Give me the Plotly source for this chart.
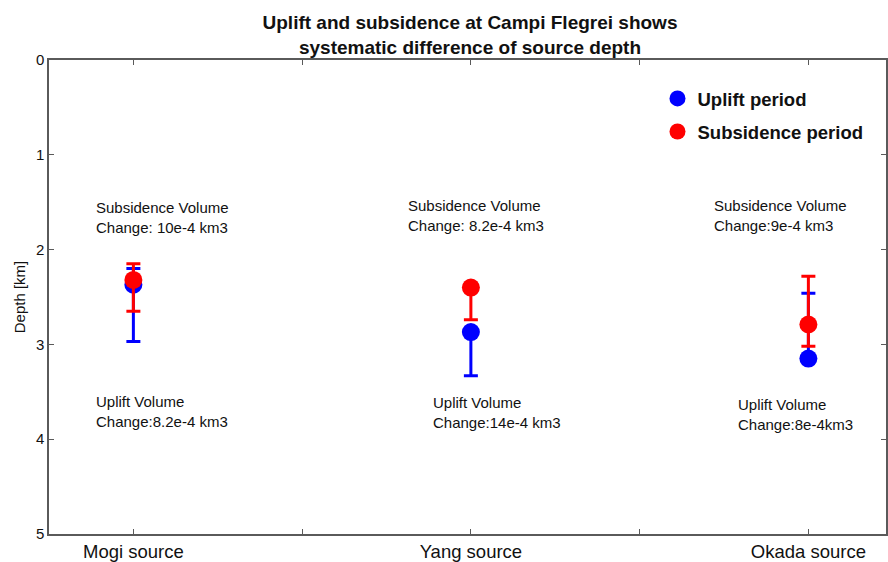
import plotly.graph_objects as go

# Source models on the x axis (positions 1, 2, 3)
models = ["Mogi source", "Yang source", "Okada source"]
model_pos = [1, 2, 3]

# Best-fit source depths [km] and their error ranges
uplift_depth = [2.37, 2.87, 3.15]
uplift_err_deeper = [0.60, 0.46, 0.0]
uplift_err_shallower = [0.17, 0.0, 0.69]

subsidence_depth = [2.32, 2.40, 2.79]
subsidence_err_deeper = [0.33, 0.34, 0.23]
subsidence_err_shallower = [0.17, 0.0, 0.51]

# Volume change notes
subsidence_notes = ["Subsidence Volume<br>Change: 10e-4 km3",
                    "Subsidence Volume<br>Change: 8.2e-4 km3",
                    "Subsidence Volume<br>Change:9e-4 km3"]
uplift_notes = ["Uplift Volume<br>Change:8.2e-4 km3",
                "Uplift Volume<br>Change:14e-4 km3",
                "Uplift Volume<br>Change:8e-4km3"]
note_offsets_sub = [-0.118, -0.192, -0.287]
note_offsets_up = [-0.118, -0.118, -0.213]
note_depth_sub = [1.66, 1.635, 1.645]
note_depth_up = [3.71, 3.72, 3.74]

x_ticks = [1, 1.5, 2, 2.5, 3]
x_ticktext = ["Mogi source", "", "Yang source", "", "Okada source"]
y_ticks = [0, 1, 2, 3, 4, 5]

FONT = "Liberation Sans, Arial, sans-serif"
AXIS_GRAY = "#5a5a5a"

fig = go.Figure()

fig.add_trace(go.Scatter(
    x=model_pos, y=uplift_depth, mode="markers", name="Uplift period",
    legendgroup="up",
    marker=dict(color="#0000ff", size=18),
    error_y=dict(type="data", symmetric=False, array=uplift_err_deeper,
                 arrayminus=uplift_err_shallower, color="#0000ff",
                 thickness=3, width=7),
))
fig.add_trace(go.Scatter(
    x=model_pos, y=subsidence_depth, mode="markers", name="Subsidence period",
    legendgroup="sub",
    marker=dict(color="#ff0000", size=18),
    error_y=dict(type="data", symmetric=False, array=subsidence_err_deeper,
                 arrayminus=subsidence_err_shallower, color="#ff0000",
                 thickness=3, width=7),
))

annotations = []
for xp, dx, yd, txt in zip(model_pos, note_offsets_sub, note_depth_sub, subsidence_notes):
    annotations.append(dict(x=xp + dx, y=yd, xref="x", yref="y", text=txt,
                            showarrow=False, xanchor="left", yanchor="middle",
                            align="left", font=dict(family=FONT, size=15, color="#111")))
for xp, dx, yd, txt in zip(model_pos, note_offsets_up, note_depth_up, uplift_notes):
    annotations.append(dict(x=xp + dx, y=yd, xref="x", yref="y", text=txt,
                            showarrow=False, xanchor="left", yanchor="middle",
                            align="left", font=dict(family=FONT, size=15, color="#111")))

fig.update_layout(
    width=888, height=562,
    margin=dict(l=49, r=0, t=60, b=24),
    paper_bgcolor="white", plot_bgcolor="white",
    font=dict(family=FONT, color="#111"),
    title=dict(
        text="<b>Uplift and subsidence at Campi Flegrei shows<br>systematic difference of source depth</b>",
        x=470 / 888, xanchor="center", xref="container",
        y=1 - 29 / 562, yanchor="middle", yref="container",
        font=dict(family=FONT, size=19, color="#111"),
    ),
    legend=dict(
        x=0.727, y=0.958, xanchor="left", yanchor="top",
        bgcolor="rgba(0,0,0,0)", traceorder="grouped", tracegroupgap=6,
        font=dict(family=FONT, size=18.5, color="#111", weight="bold"),
    ),
    annotations=annotations,
    showlegend=True,
)

fig.update_xaxes(
    range=[0.75, 3.23], tickvals=x_ticks, ticktext=x_ticktext,
    ticks="inside", ticklen=5, tickwidth=1.2, tickcolor=AXIS_GRAY,
    showline=True, linecolor=AXIS_GRAY, linewidth=1.5, mirror="ticks",
    showgrid=False, zeroline=False,
    tickfont=dict(family=FONT, size=18.5, color="#111"),
)
fig.update_yaxes(
    range=[5, 0], tickvals=y_ticks,
    ticks="inside", ticklen=5, tickwidth=1.2, tickcolor=AXIS_GRAY,
    showline=True, linecolor=AXIS_GRAY, linewidth=1.5, mirror="ticks",
    showgrid=False, zeroline=False,
    tickfont=dict(family=FONT, size=15, color="#111"),
    title=dict(text="Depth [km]", standoff=7,
               font=dict(family=FONT, size=15, color="#111")),
)

fig.write_html("out.html")
